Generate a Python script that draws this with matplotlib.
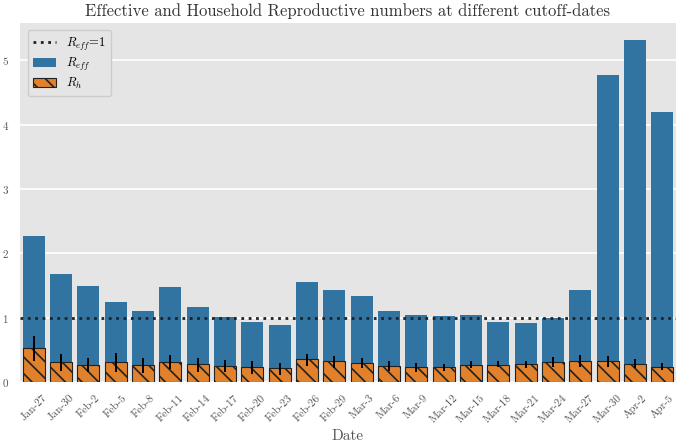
import matplotlib
matplotlib.use("Agg")
import matplotlib.pyplot as plt
import numpy as np

dates = ["Jan-27", "Jan-30", "Feb-2", "Feb-5", "Feb-8", "Feb-11", "Feb-14", "Feb-17",
         "Feb-20", "Feb-23", "Feb-26", "Feb-29", "Mar-3", "Mar-6", "Mar-9", "Mar-12",
         "Mar-15", "Mar-18", "Mar-21", "Mar-24", "Mar-27", "Mar-30", "Apr-2", "Apr-5"]
r_eff = [2.27, 1.68, 1.49, 1.24, 1.10, 1.48, 1.16, 1.01, 0.94, 0.89, 1.55, 1.43,
         1.34, 1.11, 1.04, 1.02, 1.04, 0.93, 0.91, 1.00, 1.43, 4.77, 5.31, 4.20]
r_h = [0.53, 0.31, 0.27, 0.31, 0.26, 0.31, 0.28, 0.25, 0.24, 0.22, 0.35, 0.32,
       0.29, 0.25, 0.23, 0.23, 0.27, 0.27, 0.28, 0.31, 0.32, 0.32, 0.28, 0.24]
r_h_lo = [0.33, 0.17, 0.15, 0.16, 0.14, 0.20, 0.16, 0.15, 0.13, 0.11, 0.25, 0.22,
          0.21, 0.17, 0.16, 0.17, 0.21, 0.23, 0.22, 0.23, 0.23, 0.24, 0.21, 0.18]
r_h_hi = [0.72, 0.43, 0.38, 0.45, 0.37, 0.42, 0.38, 0.34, 0.32, 0.30, 0.44, 0.40,
          0.37, 0.32, 0.29, 0.28, 0.33, 0.32, 0.32, 0.39, 0.42, 0.40, 0.35, 0.30]

plt.rcParams['font.family'] = 'serif'
plt.rcParams['font.serif'] = ['cmr10']
plt.rcParams['mathtext.fontset'] = 'cm'
plt.rcParams['axes.unicode_minus'] = False
plt.rcParams['axes.formatter.use_mathtext'] = True
plt.rcParams['hatch.linewidth'] = 1.2

fig = plt.figure(figsize=(6.8, 4.44), dpi=100)
ax_h = (382 - 23) / 444
ax = fig.add_axes([20/680, 1-382/444, 656/680, ax_h])
ax.set_facecolor('#E5E5E5')
for s in ax.spines.values():
    s.set_visible(False)
ax.grid(axis='y', color='white', linewidth=1.2)
ax.set_axisbelow(True)

x = np.arange(len(dates))
rh = np.array(r_h)
ax.axhline(1, color='#222222', linestyle=':', linewidth=2, label='$R_{eff}$=1', zorder=3)
ax.bar(x, r_eff, width=0.8, color='#3274A1', label='$R_{eff}$', zorder=2)
ax.bar(x, r_h, width=0.8, color='#E1812C', edgecolor='#222222', linewidth=0.8,
       hatch='\\\\', label='$R_h$', zorder=2)
ax.errorbar(x, rh, yerr=[rh - np.array(r_h_lo), np.array(r_h_hi) - rh], fmt='none',
            ecolor='black', elinewidth=1.4, capsize=0, zorder=4)

ax.set_xlim(-0.5, len(dates) - 0.5)
ax.set_ylim(0, 5.58)
ax.set_xticks(x)
ax.set_xticklabels(dates, rotation=45, fontsize=8, color='#555555')
ax.set_yticks([0, 1, 2, 3, 4, 5])
ax.tick_params(axis='x', length=0, labelsize=8, labelcolor='#555555', pad=8)
ax.tick_params(axis='y', length=0, labelsize=8, labelcolor='#555555', pad=8)
ax.set_xlabel('Date', fontsize=11, color='#555555')
ax.xaxis.set_label_coords(0.5, -(429 - 382) / 444 / ax_h)
ax.set_title('Effective and Household Reproductive numbers at different cutoff-dates',
             fontsize=12, color='#333333', pad=5)
leg = ax.legend(loc='upper left', fontsize=9, facecolor='#E5E5E5', edgecolor='#CCCCCC',
                framealpha=1, labelspacing=0.25, handlelength=1.9, borderaxespad=0.6)
fig.savefig('out.png', dpi=100)
